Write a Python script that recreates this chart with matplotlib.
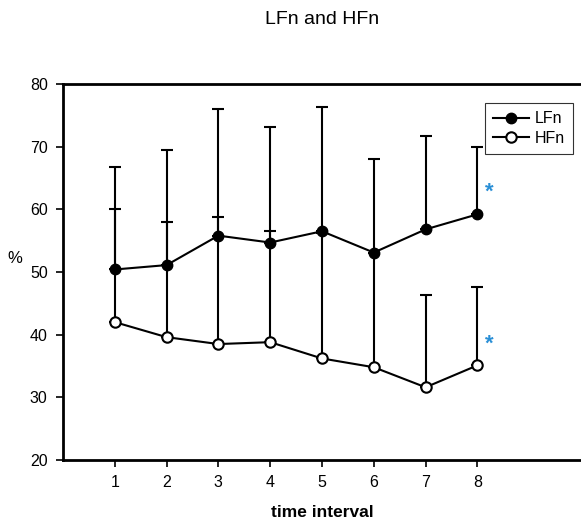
import matplotlib
matplotlib.use("Agg")
import matplotlib.pyplot as plt

plt.rcParams['font.family'] = ['Liberation Sans', 'DejaVu Sans']

intervals = [1, 2, 3, 4, 5, 6, 7, 8]
lfn_mean = [50.4, 51.1, 55.8, 54.7, 56.5, 53.1, 56.8, 59.2]
lfn_upper = [66.8, 69.5, 76.0, 73.1, 76.4, 68.1, 71.7, 70.0]
hfn_mean = [42.0, 39.6, 38.5, 38.8, 36.2, 34.8, 31.6, 35.1]
hfn_upper = [60.0, 57.9, 58.8, 56.5, 56.3, 53.0, 46.4, 47.6]
star_x = 8.23
star_y = [63.1, 38.9]

lfn_err = [[0] * len(intervals), [u - m for u, m in zip(lfn_upper, lfn_mean)]]
hfn_err = [[0] * len(intervals), [u - m for u, m in zip(hfn_upper, hfn_mean)]]

fig = plt.figure(figsize=(5.81, 5.23), dpi=100)
ax = fig.add_axes([0.1084, 0.1205, 0.8916, 0.7189])

lw = 1.5
ax.errorbar(intervals, hfn_mean, yerr=hfn_err, fmt='none', ecolor='black',
            elinewidth=lw, capsize=4.5, capthick=lw, zorder=2)
ax.errorbar(intervals, lfn_mean, yerr=lfn_err, fmt='none', ecolor='black',
            elinewidth=lw, capsize=4.5, capthick=lw, zorder=2)
ax.plot(intervals, lfn_mean, color='black', linewidth=lw, marker='o',
        markersize=7.5, markerfacecolor='black', markeredgecolor='black',
        label='LFn', zorder=3)
ax.plot(intervals, hfn_mean, color='black', linewidth=lw, marker='o',
        markersize=7.5, markerfacecolor='white', markeredgecolor='black',
        mew=1.5, label='HFn', zorder=3)

for y in star_y:
    ax.text(star_x, y, '*', color='#2a8fd6', fontsize=16, fontweight='bold',
            ha='center', va='center_baseline', family='Liberation Sans')

ax.set_xlim(0, 10)
ax.set_ylim(20, 80)
ax.set_xticks(intervals)
ax.set_yticks([20, 30, 40, 50, 60, 70, 80])
ax.tick_params(direction='out', length=5, width=1.2, labelsize=11.5, pad=6)

for side in ['left', 'bottom', 'top']:
    ax.spines[side].set_linewidth(2)
ax.spines['right'].set_visible(False)

ax.set_xlabel('time interval', fontsize=12.5, fontweight='bold', va='center')
ax.xaxis.set_label_coords(0.5, -0.141)
ax.set_ylabel('%', fontsize=12, rotation=0, va='center', ha='center')
ax.yaxis.set_label_coords(-0.093, 0.537)

fig.text(0.555, 0.962, 'LFn and HFn', fontsize=14, ha='center', va='center')

leg = ax.legend(loc='upper right', bbox_to_anchor=(1.0, 0.97), fontsize=11.5,
                frameon=True, fancybox=False, edgecolor='black',
                handlelength=2.2, borderpad=0.5, labelspacing=0.3,
                handletextpad=0.4)
leg.get_frame().set_linewidth(0.8)

fig.savefig('out.png', dpi=100)
